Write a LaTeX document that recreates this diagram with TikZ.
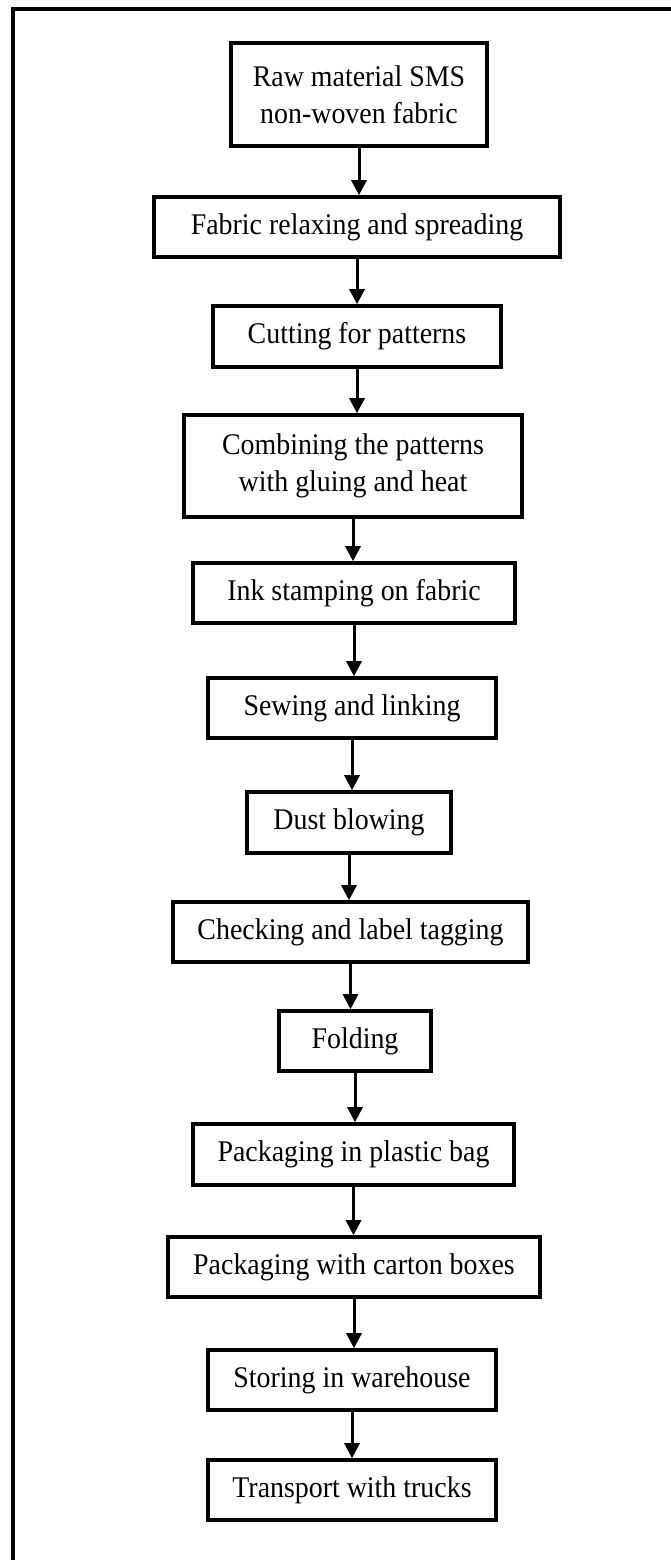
\documentclass[tikz,border=0pt]{standalone}
\usepackage{fontspec}
\setmainfont{Liberation Serif}[FakeStretch=0.93]
\usetikzlibrary{arrows.meta}

\begin{document}
\begin{tikzpicture}[x=1pt,y=-1pt,
  stepbox/.style={draw, line width=3.6pt, inner sep=0pt, align=center,
    font=\fontsize{30}{37}\selectfont},
  flow/.style={line width=3pt, -{Triangle[length=15pt,width=15pt]}},
  frameline/.style={line width=4.2pt}]
  \useasboundingbox (0,0) rectangle (671,1560);

  % outer frame (top and left edges)
  \draw[frameline] (671,9) -- (13,9) -- (13,1560);

  % process steps
  \node[stepbox, minimum width=256pt, minimum height=103pt] (s1) at (359,94.5)
    {Raw material SMS\\non-woven fabric};
  \node[stepbox, minimum width=406pt, minimum height=60pt] (s2) at (357,227)
    {Fabric relaxing and spreading};
  \node[stepbox, minimum width=288pt, minimum height=61pt] (s3) at (357,336.5)
    {Cutting for patterns};
  \node[stepbox, minimum width=338pt, minimum height=102pt] (s4) at (353,466)
    {Combining the patterns\\with gluing and heat};
  \node[stepbox, minimum width=322pt, minimum height=60pt] (s5) at (354,593)
    {Ink stamping on fabric};
  \node[stepbox, minimum width=288pt, minimum height=60pt] (s6) at (352,708)
    {Sewing and linking};
  \node[stepbox, minimum width=204pt, minimum height=61pt] (s7) at (349,822.5)
    {Dust blowing};
  \node[stepbox, minimum width=355pt, minimum height=60pt] (s8) at (350.5,932)
    {Checking and label tagging};
  \node[stepbox, minimum width=152pt, minimum height=60pt] (s9) at (355,1041)
    {Folding};
  \node[stepbox, minimum width=321pt, minimum height=61pt] (s10) at (353.5,1154.5)
    {Packaging in plastic bag};
  \node[stepbox, minimum width=372pt, minimum height=60pt] (s11) at (354,1267)
    {Packaging with carton boxes};
  \node[stepbox, minimum width=288pt, minimum height=60pt] (s12) at (352,1380)
    {Storing in warehouse};
  \node[stepbox, minimum width=288pt, minimum height=60pt] (s13) at (352,1490)
    {Transport with trucks};

  % connectors
  \foreach \a/\b in {s1/s2,s2/s3,s3/s4,s4/s5,s5/s6,s6/s7,s7/s8,s8/s9,
                     s9/s10,s10/s11,s11/s12,s12/s13}
    \draw[flow] (\a.south) -- (\a.south |- \b.north);
\end{tikzpicture}
\end{document}
